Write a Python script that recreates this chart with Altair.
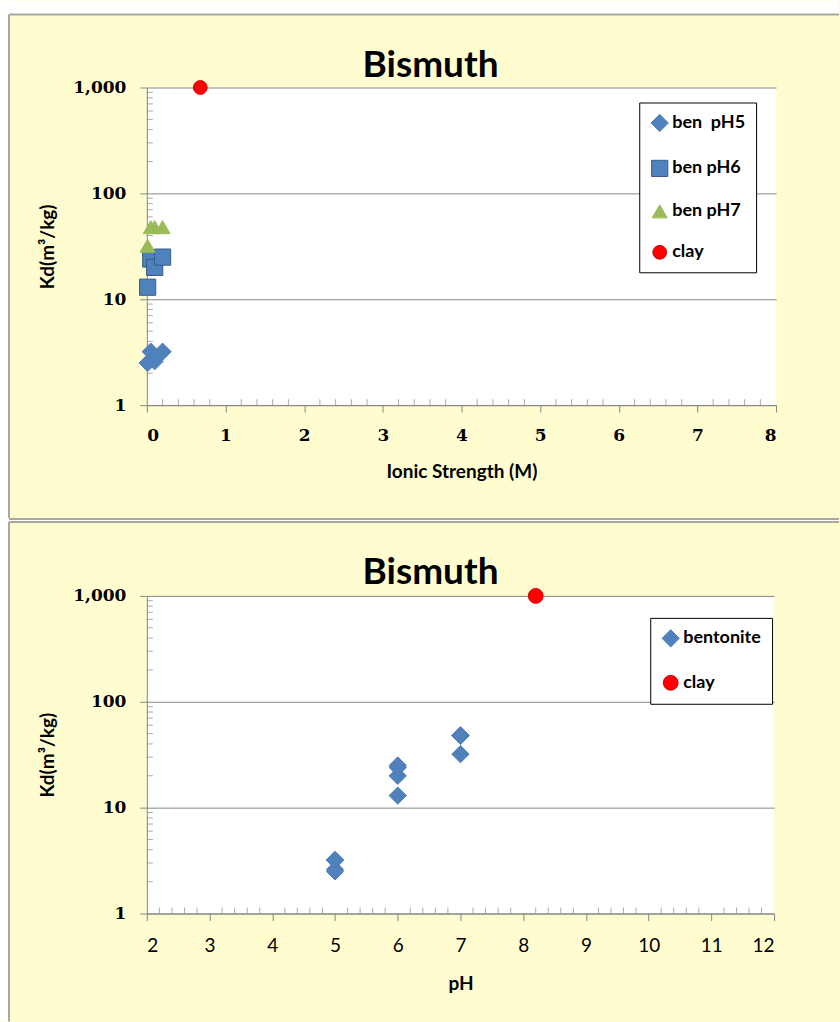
import altair as alt
import pandas as pd

# ---------------- data ----------------
top_series = ["ben\u00a0 pH5"] * 4 + ["ben pH6"] * 4 + ["ben pH7"] * 4 + ["clay"]
ionic_strength = [0.01, 0.05, 0.1, 0.2, 0.01, 0.05, 0.1, 0.2, 0.01, 0.05, 0.1, 0.2, 0.68]
kd_top = [2.5, 3.2, 2.6, 3.2, 13, 24, 20, 25, 32, 48, 48, 48, 1000]

bottom_series = ["bentonite"] * 12 + ["clay"]
ph_values = [5, 5, 5, 5, 6, 6, 6, 6, 7, 7, 7, 7, 8.2]
kd_bottom = [2.5, 3.2, 2.6, 3.2, 13, 24, 20, 25, 32, 48, 48, 48, 1000]

top_legend = ["ben\u00a0 pH5", "ben pH6", "ben pH7", "clay"]
bottom_legend = ["bentonite", "clay"]

y_ticks = [1, 10, 100, 1000]
x_ticks_top = list(range(0, 9))
x_ticks_bottom = list(range(2, 13))

# ---------------- style ----------------
BLUE = "#4F81BD"
BLUE_EDGE = "#385D8A"
GREEN = "#9BBB59"
RED = "#FF0000"
RED_EDGE = "#D00000"
AXIS_GRAY = "#868686"
PANEL_BG = "#FFFDD0"
BORDER = "#A8A8A0"
FONT = "Lato"
SERIF = "DejaVu Serif"

W_TOP, W_BOT, H = 630, 628, 318

top_df = pd.DataFrame({"series": top_series, "sz": top_series, "x": ionic_strength, "kd": kd_top})
bot_df = pd.DataFrame({"series": bottom_series, "sz": bottom_series, "x": ph_values, "kd": kd_bottom})

y_minor = [m * 10 ** e for e in range(3) for m in range(2, 10)]
x_minor_top = [i / 5 for i in range(0, 41) if i % 5]
x_minor_bot = [2 + i / 5 for i in range(0, 51) if i % 5]

one = pd.DataFrame({"d": [0]})


def white_rect(x, x2, y, y2):
    return alt.Chart(one).mark_rect(color="white").encode(
        x=alt.value(x), x2=alt.value(x2), y=alt.value(y), y2=alt.value(y2))


def border(x, x2, y, y2):
    return alt.Chart(one).mark_rule(color=BORDER, strokeWidth=2).encode(
        x=alt.value(x), x2=alt.value(x2), y=alt.value(y), y2=alt.value(y2))


def title_text(y):
    return alt.Chart(one).mark_text(
        text="Bismuth", font=FONT, fontSize=37, fontWeight="bold", color="black",
        align="center", baseline="alphabetic").encode(x=alt.value(284), y=alt.value(y))


def make_panel(df, xdom, xticks, xminor, xtitle, width, legend_domain,
               colors, edges, shapes, sizes, legend_xy, top_style, decos):
    xscale = alt.Scale(domain=xdom, nice=False, zero=False)
    yscale = alt.Scale(type="log", domain=[1, 1000], nice=False)
    if top_style:
        xlab = dict(labelFont=SERIF, labelFontSize=17, labelFontWeight="bold",
                    labelPadding=15, titlePadding=19)
    else:
        xlab = dict(labelFont=FONT, labelFontSize=19, labelFontWeight="normal",
                    labelPadding=16, titlePadding=19)
    xaxis = alt.Axis(values=xticks, title=xtitle, grid=False, tickSize=7,
                     tickColor=AXIS_GRAY, domainColor=AXIS_GRAY,
                     labelColor="black",
                     titleFont=FONT, titleFontSize=19, titleFontWeight="bold",
                     titleColor="black", **xlab)
    yaxis = alt.Axis(values=y_ticks, format=",", title="Kd(m³/kg)", grid=True,
                     gridColor=AXIS_GRAY, gridWidth=1, tickSize=7,
                     tickColor=AXIS_GRAY, domainColor=AXIS_GRAY,
                     labelFont=SERIF, labelFontSize=17, labelFontWeight="bold",
                     labelColor="black", labelPadding=14,
                     titleFont=FONT, titleFontSize=19, titleFontWeight="bold",
                     titleColor="black", titlePadding=15)

    ymin = alt.Chart(pd.DataFrame({"v": y_minor})).mark_tick(
        orient="horizontal", color=AXIS_GRAY, size=6, thickness=1).encode(
        y=alt.Y("v:Q", scale=yscale, axis=yaxis), x=alt.value(3))
    xmin = alt.Chart(pd.DataFrame({"v": xminor})).mark_tick(
        orient="vertical", color=AXIS_GRAY, size=6, thickness=1).encode(
        x=alt.X("v:Q", scale=xscale, axis=xaxis), y=alt.value(H - 3))

    pts = alt.Chart(df).mark_point(filled=True, opacity=1, strokeWidth=1).encode(
        x=alt.X("x:Q", scale=xscale, axis=xaxis),
        y=alt.Y("kd:Q", scale=yscale, axis=yaxis),
        color=alt.Color("series:N", scale=alt.Scale(domain=legend_domain, range=colors),
                        legend=alt.Legend(title=None, orient="none",
                                          legendX=legend_xy[0], legendY=legend_xy[1],
                                          fillColor="white", strokeColor="black",
                                          padding=11, rowPadding=23, labelFont=FONT,
                                          labelFontSize=18, labelFontWeight="bold",
                                          labelColor="black",
                                          symbolSize=100, labelOffset=3,
                                          symbolStrokeWidth=1)),
        shape=alt.Shape("series:N", scale=alt.Scale(domain=legend_domain, range=shapes)),
        stroke=alt.Stroke("series:N", scale=alt.Scale(domain=legend_domain, range=edges)),
        size=alt.Size("sz:N", scale=alt.Scale(domain=legend_domain, range=sizes),
                      legend=None),
    )

    return alt.layer(*decos, ymin, xmin, pts).properties(width=width, height=H)


top_decos = [
    white_rect(-147, 693, -87, -73),
    white_rect(-147, -138, -87, 435),
    white_rect(-147, 693, 432, 435),
    border(-138, 693, -73, -73),
    border(-138, -138, -73, 432),
    border(-138, 693, 432, 432),
    title_text(-11),
]
bot_decos = [
    white_rect(-147, -138, -78, 426),
    border(-138, 693, -74, -74),
    border(-138, -138, -74, 426),
    title_text(-12),
]

top = make_panel(top_df, [0, 8], x_ticks_top, x_minor_top, "Ionic Strength (M)", W_TOP,
                 top_legend, [BLUE, BLUE, GREEN, RED], [BLUE, BLUE_EDGE, GREEN, RED_EDGE],
                 ["diamond", "square", "triangle-up", "circle"], [300, 190, 210, 220],
                 (493, 15), True, top_decos)
bottom = make_panel(bot_df, [2, 12], x_ticks_bottom, x_minor_bot, "pH", W_BOT,
                    bottom_legend, [BLUE, RED], [BLUE, RED_EDGE],
                    ["diamond", "circle"], [300, 220],
                    (504, 22), False, bot_decos)

chart = alt.VConcatChart(vconcat=[top, bottom], spacing=191, bounds="flush").resolve_scale(
    color="independent", shape="independent", stroke="independent", size="independent"
).properties(
    padding=0, background=PANEL_BG
).configure_view(fill="white", strokeWidth=0)

chart.save("out.html", embed_options={"renderer": "svg", "actions": False})
